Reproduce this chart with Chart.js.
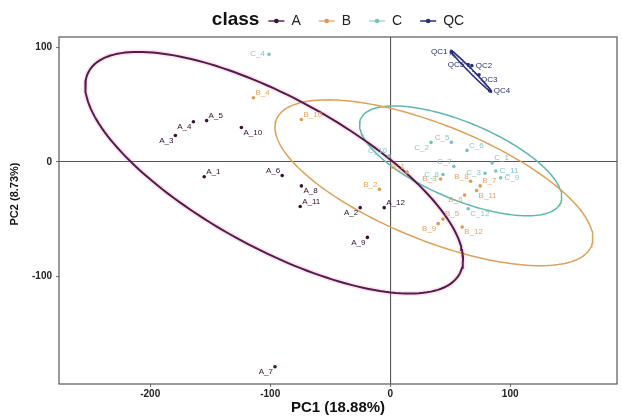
<!DOCTYPE html>
<html>
<head>
<meta charset="utf-8">
<script src="https://cdn.jsdelivr.net/npm/chart.js@4/dist/chart.umd.min.js"></script>
<style>
  html, body { margin: 0; padding: 0; background: #ffffff; }
  #wrap { width: 622px; height: 417px; }
</style>
</head>
<body>
<div id="wrap"><canvas id="pca" width="622" height="417"></canvas></div>
<script>
// ---- PCA scores (PC1, PC2) per class ----
const classNames = ['A', 'B', 'C', 'QC'];

const samplesA = ['A_1','A_2','A_3','A_4','A_5','A_6','A_7','A_8','A_9','A_10','A_11','A_12'];
const pc1A = [-155, -25, -179, -164, -153, -90, -96, -74, -19, -124, -75, -5];
const pc2A = [-13, -40, 23, 35, 36, -12, -179, -21, -66, 30, -39, -40];

const samplesB = ['B_1','B_2','B_3','B_4','B_5','B_6','B_7','B_8','B_9','B_10','B_11','B_12'];
const pc1B = [14, -9, 42, -114, 44, 62, 75, 67, 40, -74, 72, 60];
const pc2B = [-9, -24, -15, 56, -50, -29, -21, -17, -54, 37, -25, -57];

const samplesC = ['C_1','C_2','C_3','C_4','C_5','C_6','C_7','C_8','C_9','C_10','C_11','C_12'];
const pc1C = [85, 34, 79, -101, 51, 64, 53, 44, 92, -1, 88, 65];
const pc2C = [-1, 17, -10, 94, 17, 10, -4, -11, -14, 5, -8, -41];

const samplesQC = ['QC1','QC2','QC3','QC4','QC5'];
const pc1QC = [51, 68, 74, 83, 65];
const pc2QC = [96, 84, 76, 62, 85];

// 95% confidence ellipses per class: centre, semi-axes and tilt (degrees)
const ellipseCx    = [-96.7, 36.4, 58.7, 67.3];
const ellipseCy    = [-9.5, -18.3, 0.85, 79.3];
const ellipseMajor = [178, 142.4, 91, 25];
const ellipseMinor = [65, 50.1, 33.4, 1.6];
const ellipseTilt  = [-30.1, -23.1, -24, -46.7];

// axis ticks and ranges
const xTicks = [-200, -100, 0, 100];
const yTicks = [-100, 0, 100];
const xRange = [-276, 189];
const yRange = [-194, 109];

const xTitle = 'PC1 (18.88%)';
const yTitle = 'PC2 (8.73%)';
const legendTitle = 'class';

// colours per class
const pointColors   = ['#3a1235', '#e29a4a', '#74c4c2', '#27307a'];
const labelColors   = ['#2e0f2b', '#e3a45e', '#7fc9c6', '#27307a'];
const ellipseColors = ['#561a4e', '#e0a055', '#5cb8b0', '#27307a'];
const keyColors     = ['#6a2050', '#eab07a', '#a6d8d4', '#27307a'];

// label side relative to its point
const labelSideA  = ['ne','sw','sw','sw','ne','nw','sw','se','sw','se','ne','ne'];
const labelSideB  = ['nw','nw','w','ne','ne','sw','ne','nw','sw','ne','se','se'];
const labelSideC  = ['ne','sw','w','w','nw','ne','nw','w','e','nw','e','se'];
const labelSideQC = ['w','e','se','e','w'];

function toPoints(xs, ys) {
  return xs.map((x, i) => ({ x: x, y: ys[i] }));
}

function ellipseOutline(k) {
  const cx = ellipseCx[k], cy = ellipseCy[k];
  const a = ellipseMajor[k], b = ellipseMinor[k];
  const th = ellipseTilt[k] * Math.PI / 180;
  const pts = [];
  const n = 180;
  for (let i = 0; i <= n; i++) {
    const t = 2 * Math.PI * i / n;
    pts.push({
      x: cx + a * Math.cos(th) * Math.cos(t) - b * Math.sin(th) * Math.sin(t),
      y: cy + a * Math.sin(th) * Math.cos(t) + b * Math.cos(th) * Math.sin(t)
    });
  }
  return pts;
}

const groups = [
  { names: samplesA,  pts: toPoints(pc1A, pc2A),   sides: labelSideA },
  { names: samplesB,  pts: toPoints(pc1B, pc2B),   sides: labelSideB },
  { names: samplesC,  pts: toPoints(pc1C, pc2C),   sides: labelSideC },
  { names: samplesQC, pts: toPoints(pc1QC, pc2QC), sides: labelSideQC }
];

const datasets = [];
// soft pink fringe along the A ellipse
datasets.push({
  label: 'A ellipse fringe',
  data: ellipseOutline(0),
  showLine: true,
  borderColor: 'rgba(235,120,155,0.2)',
  borderWidth: 5,
  pointRadius: 0,
  pointHoverRadius: 0,
  fill: false,
  tension: 0,
  order: 3,
  isEllipse: true
});
// ellipse outlines
classNames.forEach((c, k) => {
  datasets.push({
    label: c + ' ellipse',
    data: ellipseOutline(k),
    showLine: true,
    borderColor: ellipseColors[k],
    borderWidth: k === 0 ? 2 : 1.5,
    pointRadius: 0,
    pointHoverRadius: 0,
    fill: false,
    tension: 0,
    order: 2,
    isEllipse: true
  });
});
// sample points
classNames.forEach((c, k) => {
  datasets.push({
    label: c,
    data: groups[k].pts,
    showLine: false,
    backgroundColor: pointColors[k],
    borderColor: pointColors[k],
    pointRadius: 1.8,
    pointBorderWidth: 0,
    order: 1,
    classIndex: k
  });
});

const FONT = '"Liberation Sans", Arial, Helvetica, sans-serif';

const framePlugin = {
  id: 'frame',
  afterDatasetsDraw(chart) {
    const { ctx, chartArea: a } = chart;
    ctx.save();
    ctx.strokeStyle = '#595959';
    ctx.lineWidth = 1.2;
    ctx.strokeRect(a.left, a.top, a.right - a.left, a.bottom - a.top);
    ctx.restore();
  }
};

const labelPlugin = {
  id: 'pointLabels',
  afterDatasetsDraw(chart) {
    const ctx = chart.ctx;
    ctx.save();
    ctx.font = '8px ' + FONT;
    chart.data.datasets.forEach((ds, di) => {
      if (ds.isEllipse) return;
      const k = ds.classIndex;
      const meta = chart.getDatasetMeta(di);
      ctx.fillStyle = labelColors[k];
      meta.data.forEach((el, i) => {
        const side = groups[k].sides[i];
        const txt = groups[k].names[i];
        let x = el.x, y = el.y;
        if (side === 'ne') { ctx.textAlign = 'left';  ctx.textBaseline = 'bottom'; x += 2; y -= 1; }
        else if (side === 'nw') { ctx.textAlign = 'right'; ctx.textBaseline = 'bottom'; x -= 2; y -= 1; }
        else if (side === 'se') { ctx.textAlign = 'left';  ctx.textBaseline = 'top'; x += 2; y += 1; }
        else if (side === 'sw') { ctx.textAlign = 'right'; ctx.textBaseline = 'top'; x -= 2; y += 1; }
        else if (side === 'e')  { ctx.textAlign = 'left';  ctx.textBaseline = 'middle'; x += 4; }
        else                    { ctx.textAlign = 'right'; ctx.textBaseline = 'middle'; x -= 4; }
        ctx.fillText(txt, x, y);
      });
    });
    ctx.restore();
  }
};

const yTitlePlugin = {
  id: 'yTitle',
  afterDraw(chart) {
    const ctx = chart.ctx;
    ctx.save();
    ctx.translate(15, 194);
    ctx.rotate(-Math.PI / 2);
    ctx.font = 'bold 11px ' + FONT;
    ctx.fillStyle = '#111';
    ctx.textAlign = 'center';
    ctx.textBaseline = 'middle';
    ctx.fillText(yTitle, 0, 0);
    ctx.restore();
  }
};

const legendPlugin = {
  id: 'classLegend',
  afterDraw(chart) {
    const ctx = chart.ctx;
    const a = chart.chartArea;
    const y = 20;
    ctx.save();
    ctx.textBaseline = 'middle';
    ctx.font = 'bold 19px ' + FONT;
    const titleW = ctx.measureText(legendTitle).width;
    ctx.font = '14px ' + FONT;
    const keyW = 16, gapTitle = 9, gapKey = 7, gapItem = 18;
    let total = titleW + gapTitle;
    classNames.forEach((c, i) => {
      total += keyW + gapKey + ctx.measureText(c).width + (i < classNames.length - 1 ? gapItem : 0);
    });
    let x = (a.left + a.right) / 2 - total / 2;
    ctx.fillStyle = '#111';
    ctx.font = 'bold 19px ' + FONT;
    ctx.textAlign = 'left';
    ctx.fillText(legendTitle, x, y);
    x += titleW + gapTitle;
    ctx.font = '14px ' + FONT;
    classNames.forEach((c, i) => {
      ctx.strokeStyle = keyColors[i];
      ctx.lineWidth = 1.5;
      ctx.beginPath();
      ctx.moveTo(x, y + 1);
      ctx.lineTo(x + keyW, y + 1);
      ctx.stroke();
      ctx.fillStyle = pointColors[i];
      ctx.beginPath();
      ctx.arc(x + keyW / 2, y + 1, 2.3, 0, Math.PI * 2);
      ctx.fill();
      x += keyW + gapKey;
      ctx.fillStyle = '#222';
      ctx.fillText(c, x, y + 1);
      x += ctx.measureText(c).width + gapItem;
    });
    ctx.restore();
  }
};

new Chart(document.getElementById('pca'), {
  type: 'scatter',
  data: { datasets: datasets },
  options: {
    responsive: false,
    animation: false,
    layout: { padding: { top: 37, right: 5, left: 0, bottom: 0 } },
    plugins: {
      legend: { display: false },
      tooltip: { enabled: false }
    },
    scales: {
      x: {
        type: 'linear',
        min: xRange[0],
        max: xRange[1],
        afterBuildTicks(s) { s.ticks = xTicks.map(v => ({ value: v })); },
        afterFit(s) { s.height = 33; },
        border: { display: false },
        grid: {
          color: c => (c.tick && c.tick.value === 0) ? '#555555' : 'rgba(0,0,0,0)',
          lineWidth: 1.1,
          drawTicks: true,
          tickLength: 3,
          tickColor: '#777'
        },
        ticks: { color: '#222', font: { family: FONT, size: 10, weight: 'bold' }, padding: 1, maxRotation: 0 },
        title: { display: true, text: xTitle, color: '#111', font: { family: FONT, size: 15, weight: 'bold' }, padding: { top: 1, bottom: 0 } }
      },
      y: {
        type: 'linear',
        min: yRange[0],
        max: yRange[1],
        afterBuildTicks(s) { s.ticks = yTicks.map(v => ({ value: v })); },
        afterFit(s) { s.width = 59; },
        border: { display: false },
        grid: {
          color: c => (c.tick && c.tick.value === 0) ? '#555555' : 'rgba(0,0,0,0)',
          lineWidth: 1.1,
          drawTicks: true,
          tickLength: 3,
          tickColor: '#777'
        },
        ticks: { color: '#222', font: { family: FONT, size: 10, weight: 'bold' }, padding: 4 },
        title: { display: false }
      }
    }
  },
  plugins: [framePlugin, labelPlugin, yTitlePlugin, legendPlugin]
});
</script>
</body>
</html>
